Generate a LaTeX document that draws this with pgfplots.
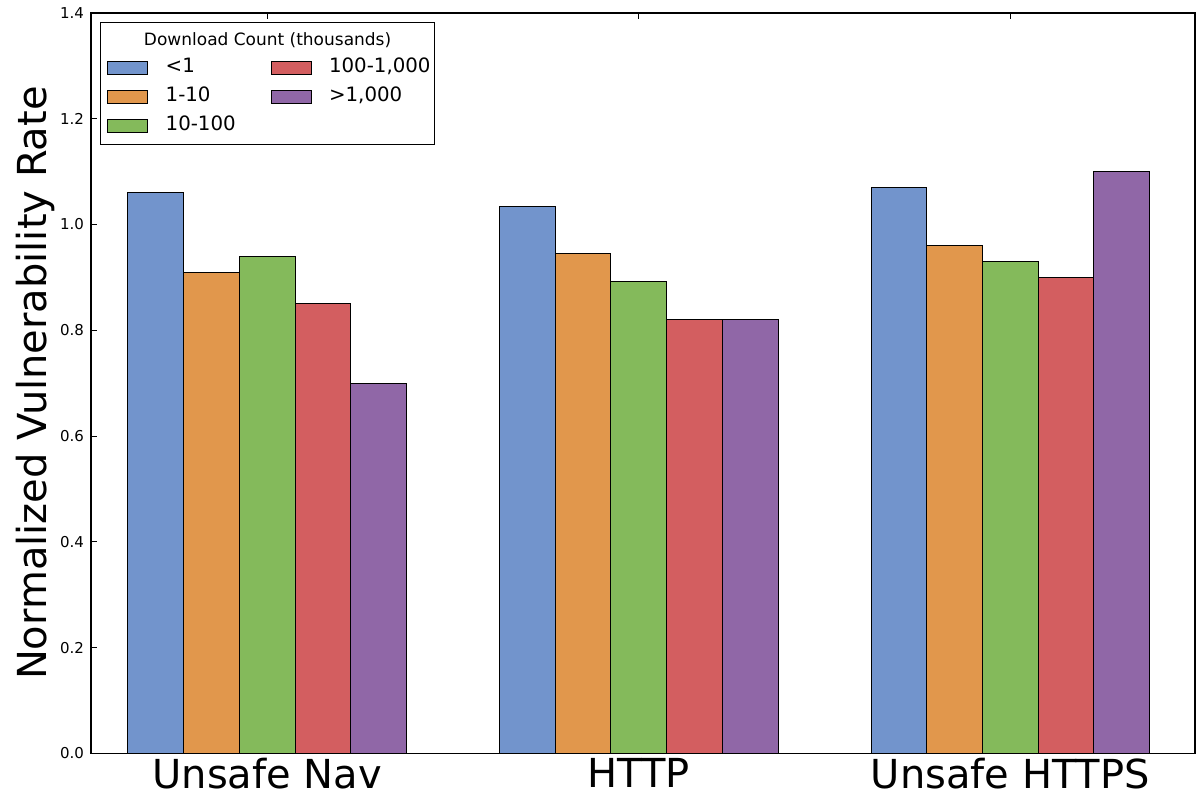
\documentclass[border=0pt]{standalone}
\usepackage{pgfplots}
\pgfplotsset{compat=1.18}
\usepackage{fontspec}
\setmainfont{DejaVu Sans}
\definecolor{cA}{RGB}{114,148,204}
\definecolor{cB}{RGB}{225,151,76}
\definecolor{cC}{RGB}{132,186,91}
\definecolor{cD}{RGB}{211,94,96}
\definecolor{cE}{RGB}{144,103,167}
\begin{document}
\begin{tikzpicture}
\path[use as bounding box] (-45.5bp,-21bp) rectangle (553bp,377bp);
\begin{axis}[
  at={(0,0)}, anchor=south west,
  scale only axis, width=552.5bp, height=370.5bp,
  ybar=0pt, bar width=0.15,
  xmin=-0.4745, xmax=2.497,
  ymin=0, ymax=1.4,
  xtick={0,1,2},
  xticklabels={Unsafe Nav, HTTP, Unsafe HTTPS},
  ytick={0,0.2,0.4,0.6,0.8,1.0,1.2,1.4},
  yticklabel style={/pgf/number format/fixed,/pgf/number format/fixed zerofill,/pgf/number format/precision=1,font=\fontsize{7.5bp}{9bp}\selectfont},
  xticklabel style={font=\fontsize{20bp}{23bp}\selectfont, yshift=1bp},
  /pgf/number format/assume math mode=true,
  tick align=inside, major tick length=3bp,
  ytick pos=left,
  every tick/.style={black, line width=0.5bp},
  ylabel={Normalized Vulnerability Rate},
  ylabel style={font=\fontsize{20bp}{23bp}\selectfont, yshift=-4bp},
  axis line style={line width=0.6bp},
  legend columns=3,
  transpose legend,
  legend cell align=left,
  legend style={at={(rel axis cs:0.0145,0.941)}, anchor=north west, draw=none, fill=none,
    inner sep=0pt,
    font=\fontsize{9.9bp}{11.5bp}\selectfont, row sep=3.5bp,
    nodes={inner xsep=2bp, inner ysep=0pt, text height=7.5bp, text depth=3.5bp},
    /tikz/every even column/.append style={column sep=15.5bp}},
  legend image code/.code={\path[draw=none,fill=none] (0bp,0) -- (27bp,0);\draw[#1, draw=black, line width=0.4bp] (0bp,-3.25bp) rectangle (20bp,3.25bp);},
  every axis plot/.append style={draw=black, line width=0.5bp},
]
\addplot[fill=cA] coordinates {(0,1.06) (1,1.035) (2,1.07)};
\addlegendentry{<1}
\addplot[fill=cB] coordinates {(0,0.91) (1,0.945) (2,0.96)};
\addlegendentry{1-10}
\addplot[fill=cC] coordinates {(0,0.94) (1,0.893) (2,0.93)};
\addlegendentry{10-100}
\addplot[fill=cD] coordinates {(0,0.85) (1,0.82) (2,0.90)};
\addlegendentry{100-1,000}
\addplot[fill=cE] coordinates {(0,0.70) (1,0.82) (2,1.10)};
\addlegendentry{>1,000}
\draw[black, line width=0.5bp] (rel axis cs:0.009,0.823) rectangle (rel axis cs:0.311,0.9865);
\node[font=\fontsize{8.5bp}{10bp}\selectfont, inner sep=0pt] at (rel axis cs:0.160,0.9636) {Download Count (thousands)};
\end{axis}
\end{tikzpicture}
\end{document}
